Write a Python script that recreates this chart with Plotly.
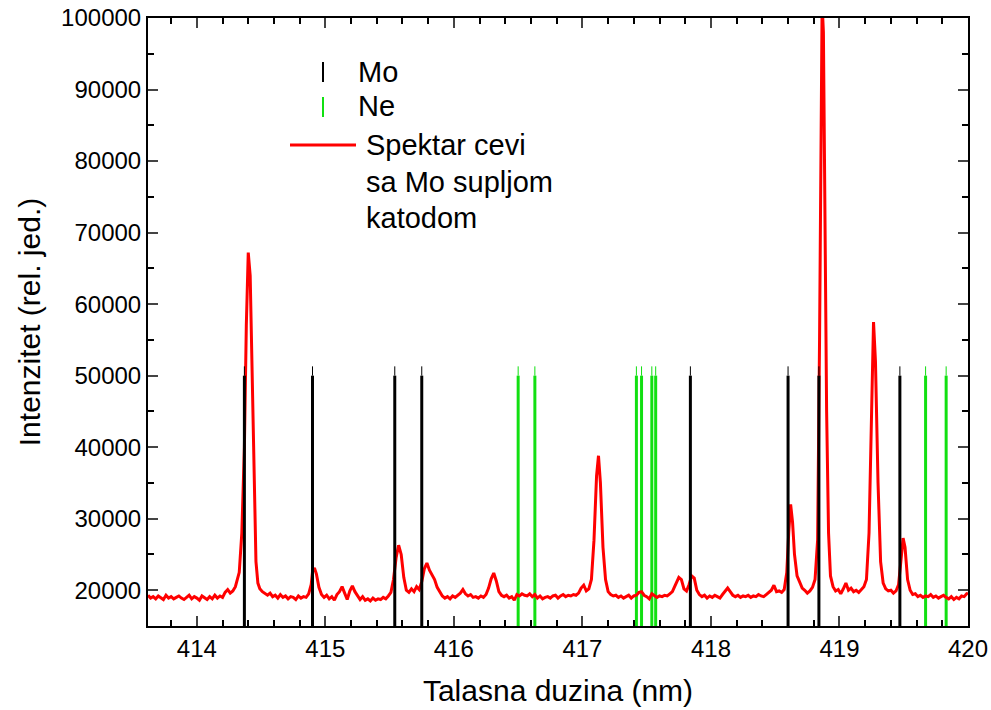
import plotly.graph_objects as go

# Spectrum (wavelength nm, intensity rel. units)
wl = [413.62, 413.64, 413.66, 413.68, 413.70, 413.72, 413.74, 413.76, 413.78, 413.80,
      413.82, 413.84, 413.86, 413.88, 413.90, 413.92, 413.94, 413.96, 413.98, 414.00,
      414.02, 414.04, 414.06, 414.08, 414.10, 414.12, 414.14, 414.16, 414.18, 414.20,
      414.22, 414.24, 414.26, 414.28, 414.30, 414.33, 414.35, 414.37, 414.385, 414.40,
      414.415, 414.43, 414.445, 414.46, 414.475, 414.49, 414.51, 414.53, 414.55, 414.57,
      414.59, 414.61, 414.63, 414.65, 414.67, 414.69, 414.71, 414.73, 414.75, 414.77,
      414.79, 414.81, 414.83, 414.85, 414.87, 414.89, 414.90, 414.915, 414.93, 414.95,
      414.97, 414.99, 415.01, 415.03, 415.05, 415.07, 415.09, 415.11, 415.13, 415.15,
      415.17, 415.19, 415.21, 415.23, 415.25, 415.27, 415.29, 415.31, 415.33, 415.35,
      415.37, 415.39, 415.41, 415.43, 415.45, 415.47, 415.49, 415.51, 415.53, 415.55,
      415.57, 415.59, 415.61, 415.63, 415.65, 415.67, 415.69, 415.71, 415.73, 415.75,
      415.77, 415.79, 415.81, 415.83, 415.85, 415.87, 415.89, 415.91, 415.93, 415.95,
      415.97, 415.99, 416.01, 416.03, 416.05, 416.07, 416.09, 416.11, 416.13, 416.15,
      416.17, 416.19, 416.21, 416.23, 416.25, 416.27, 416.29, 416.31, 416.33, 416.35,
      416.37, 416.39, 416.41, 416.43, 416.45, 416.47, 416.49, 416.51, 416.53, 416.55,
      416.57, 416.59, 416.61, 416.63, 416.65, 416.67, 416.69, 416.71, 416.73, 416.75,
      416.77, 416.79, 416.81, 416.83, 416.85, 416.87, 416.89, 416.91, 416.93, 416.95,
      416.97, 416.99, 417.01, 417.03, 417.05, 417.07, 417.09, 417.11, 417.125, 417.14,
      417.16, 417.18, 417.20, 417.22, 417.24, 417.26, 417.28, 417.30, 417.32, 417.34,
      417.36, 417.38, 417.40, 417.42, 417.44, 417.46, 417.48, 417.50, 417.52, 417.54,
      417.56, 417.58, 417.60, 417.62, 417.64, 417.66, 417.68, 417.70, 417.72, 417.75,
      417.77, 417.79, 417.81, 417.83, 417.85, 417.87, 417.89, 417.91, 417.93, 417.95,
      417.97, 417.99, 418.01, 418.03, 418.05, 418.07, 418.09, 418.11, 418.13, 418.15,
      418.17, 418.19, 418.21, 418.23, 418.25, 418.27, 418.29, 418.31, 418.33, 418.35,
      418.37, 418.39, 418.41, 418.43, 418.45, 418.47, 418.49, 418.51, 418.53, 418.55,
      418.57, 418.59, 418.605, 418.62, 418.635, 418.65, 418.67, 418.69, 418.71, 418.73,
      418.75, 418.77, 418.79, 418.81, 418.83, 418.845, 418.855, 418.865, 418.875, 418.885,
      418.90, 418.915, 418.93, 418.95, 418.97, 418.99, 419.01, 419.03, 419.05, 419.07,
      419.09, 419.11, 419.13, 419.15, 419.17, 419.19, 419.21, 419.23, 419.25, 419.265,
      419.28, 419.30, 419.32, 419.34, 419.36, 419.38, 419.40, 419.42, 419.44, 419.46,
      419.48, 419.495, 419.51, 419.53, 419.55, 419.57, 419.59, 419.61, 419.63, 419.65,
      419.67, 419.69, 419.71, 419.73, 419.75, 419.77, 419.79, 419.81, 419.83, 419.85,
      419.87, 419.89, 419.91, 419.93, 419.95, 419.97, 419.99, 420.00]
intensity = [19300, 18900, 19100, 18800, 19200, 19000, 18700, 19300, 18900, 19100,
             18800, 19000, 19200, 18900, 18700, 19000, 19300, 18800, 19100, 18900,
             18600, 19200, 19000, 18700, 19100, 18800, 19300, 18900, 19200, 19000,
             19700, 20100, 19600, 19900, 20500, 22500, 28000, 40000, 57000, 67200,
             64000, 50000, 33000, 24000, 21000, 20200, 19800, 19500, 19300, 19600,
             19100, 19300, 18900, 19400, 19000, 19200, 18800, 19100, 19000, 18700,
             19200, 18900, 19100, 19000, 19500, 20800, 22600, 23100, 22300, 20400,
             19400, 19000, 19300, 18800, 19100, 18600, 19400, 19800, 20500, 19600,
             18700, 19900, 20600, 19800, 19200, 18700, 19100, 18600, 18800, 18500,
             18900, 18600, 18800, 18700, 19000, 18800, 19200, 19700, 21500, 24500,
             26300, 25000, 21800, 20000, 19700, 20200, 19800, 20500, 20100, 21200,
             23000, 23800, 22800, 22200, 21500, 20400, 19700, 19200, 18900, 19100,
             18800, 19200, 19000, 19300, 19600, 20100, 19500, 19200, 19400, 19000,
             19100, 18900, 19200, 19000, 19400, 20300, 21600, 22400, 21300, 19800,
             19300, 19100, 19300, 18900, 19100, 18600, 19400, 19200, 19500, 19300,
             19200, 19500, 19100, 19400, 18900, 19200, 18800, 19000, 19100, 18900,
             19200, 19300, 18900, 19200, 19400, 19100, 19300, 19200, 19400, 19300,
             19600, 20300, 20700, 19900, 20200, 21500, 27000, 36000, 38800, 35000,
             26000, 21500, 19800, 19400, 19200, 19300, 19000, 19200, 18900, 19100,
             19300, 18900, 19200, 19300, 19700, 19800, 19300, 19100, 18800, 19500,
             19300, 19000, 19200, 19100, 19300, 19200, 19500, 19800, 20600, 21800,
             21500, 20200, 19900, 20800, 22000, 21700, 20000, 19400, 19100, 19300,
             18900, 19200, 19000, 19300, 19100, 18900, 19400, 19900, 20300, 19800,
             19300, 19100, 19300, 19000, 19200, 19100, 19300, 19000, 19200, 19100,
             19400, 19200, 19100, 19400, 19700, 20000, 20700, 19800, 19900, 19700,
             20100, 22500, 28000, 32000, 29500, 25000, 22000, 21000, 20300, 20000,
             19600, 19900, 20400, 21500, 27000, 55000, 85000, 102000, 98000, 75000,
             45000, 28000, 22000, 20500, 19900, 20100, 19500, 20200, 21000, 20000,
             20300, 19800, 20000, 19700, 20100, 20500, 21500, 28000, 45000, 57500,
             52000, 35000, 24000, 21000, 20200, 19900, 20000, 19600, 19900, 20800,
             24500, 27300, 26000, 21500, 20000, 19400, 19500, 19100, 19300, 19000,
             19200, 19100, 19400, 19000, 19200, 18900, 19100, 19300, 19000, 18800,
             19100, 18700, 19000, 18800, 19200, 19100, 19500, 19600]

# Reference line positions (nm)
mo_lines = [414.37, 414.90, 415.54, 415.75, 417.84, 418.60, 418.84, 419.47]
ne_lines = [416.50, 416.63, 417.42, 417.46, 417.54, 417.57, 419.67, 419.83]
line_bottom = 15000
line_top = 50000
line_tip = 51300

x_range = [413.62, 420.0]
y_range = [15000, 100000]
y_ticks = [20000, 30000, 40000, 50000, 60000, 70000, 80000, 90000, 100000]
x_ticks = [414, 415, 416, 417, 418, 419, 420]


def stems(pos, y0, y1):
    xs, ys = [], []
    for p in pos:
        xs += [p, p, None]
        ys += [y0, y1, None]
    return xs, ys


GREEN = "#11e011"
FONT = "Liberation Sans, Arial, sans-serif"

fig = go.Figure()

nx, ny = stems(ne_lines, line_bottom, line_top)
fig.add_trace(go.Scatter(x=nx, y=ny, mode="lines", line=dict(color=GREEN, width=3),
                         showlegend=False, hoverinfo="skip"))
nx2, ny2 = stems(ne_lines, line_top, line_tip)
fig.add_trace(go.Scatter(x=nx2, y=ny2, mode="lines", line=dict(color=GREEN, width=1),
                         showlegend=False, hoverinfo="skip"))

fig.add_trace(go.Scatter(x=wl, y=intensity, mode="lines",
                         line=dict(color="#ff0000", width=3), showlegend=False))

mx, my = stems(mo_lines, line_bottom, line_top)
fig.add_trace(go.Scatter(x=mx, y=my, mode="lines", line=dict(color="black", width=3),
                         showlegend=False, hoverinfo="skip"))
mx2, my2 = stems(mo_lines, line_top, line_tip)
fig.add_trace(go.Scatter(x=mx2, y=my2, mode="lines", line=dict(color="black", width=1),
                         showlegend=False, hoverinfo="skip"))

# body margin is removed in post_script, so the figure fills the window
W, H = 991, 710
L, T = 148, 18
pw, ph = 820, 608
R, B = W - L - pw, H - T - ph


def px(x):
    return (x - L) / pw


def py(y):
    return (T + ph - y) / ph


# Hand-made legend (window pixel positions)
shapes = [
    dict(type="line", xref="paper", yref="paper", x0=px(323), x1=px(323), y0=py(62), y1=py(82),
         line=dict(color="black", width=2)),
    dict(type="line", xref="paper", yref="paper", x0=px(323), x1=px(323), y0=py(97), y1=py(117),
         line=dict(color=GREEN, width=2)),
    dict(type="line", xref="paper", yref="paper", x0=px(290), x1=px(356), y0=py(145), y1=py(145),
         line=dict(color="#ff0000", width=3)),
]
legend_items = [("Mo", 356, 72), ("Ne", 356, 106), ("Spektar cevi", 364, 145),
                ("sa Mo supljom", 364, 182), ("katodom", 364, 218)]
annotations = [dict(text=t, xref="paper", yref="paper", x=px(xp), y=py(yp), xanchor="left",
                    yanchor="middle", showarrow=False, font=dict(size=29, color="black", family=FONT))
               for t, xp, yp in legend_items]

fig.update_layout(
    width=W, height=H,
    margin=dict(l=L, r=R, t=T, b=B, autoexpand=False),
    paper_bgcolor="white", plot_bgcolor="white",
    font=dict(family=FONT, color="black"),
    shapes=shapes, annotations=annotations,
    showlegend=False,
)
fig.update_xaxes(
    range=x_range, tickvals=x_ticks, ticks="inside", ticklen=10, tickwidth=2,
    showline=True, linewidth=2, linecolor="black", mirror="allticks", automargin=False,
    showgrid=False, zeroline=False, tickfont=dict(size=24), ticklabeloverflow="allow",
    minor=dict(ticks="inside", dtick=0.2, tick0=414, ticklen=6, tickwidth=1.5, tickcolor="black", showgrid=False),
    title=dict(text="Talasna duzina (nm)", font=dict(size=30), standoff=19),
)
fig.update_yaxes(
    range=y_range, tickvals=y_ticks, ticks="inside", ticklen=10, tickwidth=2,
    showline=True, linewidth=2, linecolor="black", mirror="allticks", automargin=False,
    showgrid=False, zeroline=False, tickfont=dict(size=24), tickformat="d",
    ticklabeloverflow="allow",
    minor=dict(ticks="inside", dtick=5000, tick0=15000, ticklen=6, tickwidth=1.5, tickcolor="black", showgrid=False),
    title=dict(text="Intenzitet (rel. jed.)", font=dict(size=30), standoff=12),
)

fig.write_html("out.html", config={"displayModeBar": False},
               post_script="document.body.style.margin='0';document.body.style.overflow='hidden';")
